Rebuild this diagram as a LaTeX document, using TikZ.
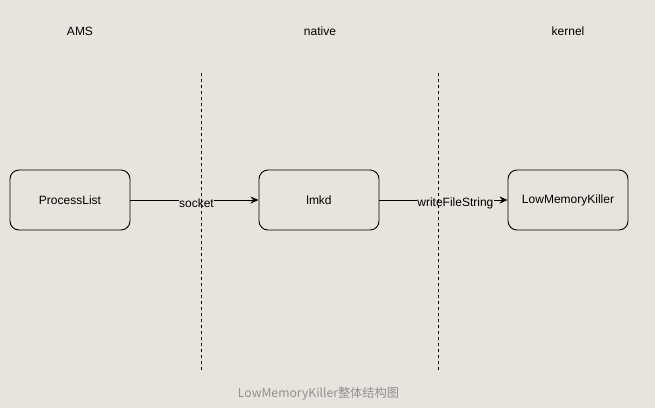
\documentclass[tikz,border=0pt]{standalone}
\usepackage{fontspec}
\setmainfont{Liberation Sans}
\newfontfamily\cjk{Noto Sans CJK SC}
\usetikzlibrary{arrows.meta}
\definecolor{bg}{HTML}{E8E3DD}
\definecolor{capgray}{HTML}{909090}
\begin{document}
\begin{tikzpicture}[x=1pt,y=-1pt,
  box/.style={draw, line width=0.9pt, rounded corners=9pt, minimum width=120pt, minimum height=60pt, font=\fontsize{12}{14}\selectfont, inner sep=0pt},
  lane/.style={font=\fontsize{12}{14}\selectfont},
  conn/.style={line width=0.9pt, -{Stealth[length=8pt,width=7pt,inset=2.5pt]}},
  clabel/.style={fill=bg, inner sep=0.5pt, yshift=-3pt, font=\fontsize{12}{14}\selectfont},
  divider/.style={line width=0.8pt, dash pattern=on 3pt off 3pt}]
\fill[bg] (0,0) rectangle (655,408);
\useasboundingbox (0,0) rectangle (655,408);
\node[lane] (ams) at (80,31) {AMS};
\node[lane] (nat) at (320,31) {native};
\node[lane] (ker) at (568,31) {kernel};
\node[box] (pl) at (70,200) {ProcessList};
\node[box] (lmkd) at (319,200) {lmkd};
\node[box] (lmk) at (568,200) {LowMemoryKiller};
\draw[conn] (pl) -- node[clabel, pos=0.515] (s) {socket} (lmkd);
\draw[conn] (lmkd) -- node[clabel, pos=0.593] (w) {writeFileString} (lmk);
\coordinate (d1t) at (201,73);
\coordinate (d1b) at (201,370);
\coordinate (d2t) at (438,73);
\coordinate (d2b) at (438,370);
\draw[divider] (d1t) -- (d1b);
\draw[divider] (d2t) -- (d2b);
\node[text=capgray, font=\cjk\fontsize{12.2}{14}\selectfont] (cap) at (318.5,394) {LowMemoryKiller整体结构图};
\end{tikzpicture}
\end{document}
